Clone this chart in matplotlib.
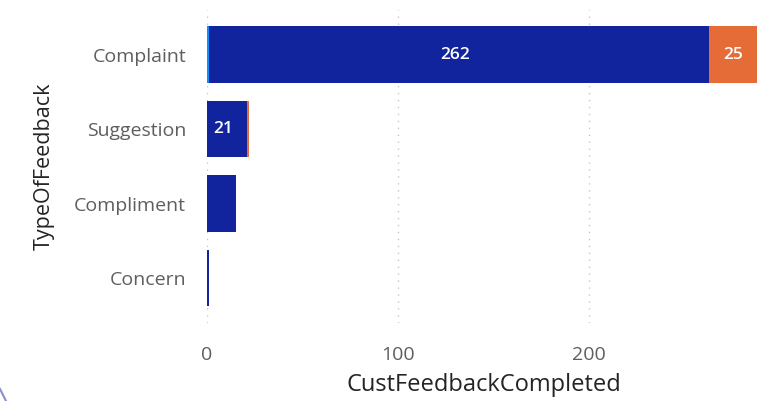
import numpy as np
import matplotlib.pyplot as plt
from matplotlib.lines import Line2D

categories = ["Complaint", "Suggestion", "Compliment", "Concern"]
seg_light = [1, 0, 0, 0]
seg_dark = [262, 21, 15, 1]
seg_orange = [25, 1, 0, 0]
xticks = [0, 100, 200]

light_color = "#118DFF"
dark_color = "#12239E"
orange_color = "#E66C37"

plt.rcParams["font.family"] = ["Open Sans", "DejaVu Sans"]

fig = plt.figure(figsize=(7.64, 4.01), dpi=100)
ax = fig.add_axes([0.271, 0.195, 0.725, 0.78])

y = np.arange(len(categories))
h = 0.76
left = np.zeros(len(categories))
for vals, col in [(seg_light, light_color), (seg_dark, dark_color), (seg_orange, orange_color)]:
    vals = np.array(vals, dtype=float)
    ax.barh(y, vals, left=left, height=h, color=col, zorder=3)
    left = left + vals

# data labels (only where the segment is wide enough)
light = np.array(seg_light, dtype=float)
dark = np.array(seg_dark, dtype=float)
orange = np.array(seg_orange, dtype=float)
for i in range(len(categories)):
    if dark[i] >= 20:
        ax.text(light[i] + dark[i] / 2 - 2, y[i], f"{int(dark[i])}", color="white",
                ha="center", va="center", fontsize=12.5, fontweight="semibold", zorder=4)
    if orange[i] >= 20:
        ax.text(light[i] + dark[i] + orange[i] / 2, y[i], f"{int(orange[i])}", color="white",
                ha="center", va="center", fontsize=12.5, fontweight="semibold", zorder=4)

ax.set_xlim(0, 290)
ax.set_ylim(3.6, -0.6)
ax.set_yticks(y, categories)
ax.set_xticks(xticks, [str(t) for t in xticks])
ax.tick_params(length=0, labelsize=14, colors="#605E5C")
ax.tick_params(axis="y", pad=15)
ax.tick_params(axis="x", pad=17)
ax.grid(axis="x", color="#C8C6C4", linestyle=(0, (1, 4)), linewidth=1, zorder=0)
for s in ax.spines.values():
    s.set_visible(False)

ax.set_xlabel("CustFeedbackCompleted", fontsize=17, color="#252423", labelpad=6)
ax.set_ylabel("TypeOfFeedback", fontsize=15.5, color="#252423", labelpad=14, fontweight="medium")

# bit of the card border visible in the bottom-left corner
fig.add_artist(Line2D([0, 6 / 764], [12 / 401, 0], transform=fig.transFigure,
                      color="#8A8FD0", lw=1.5))

fig.savefig("out.png", dpi=100)
